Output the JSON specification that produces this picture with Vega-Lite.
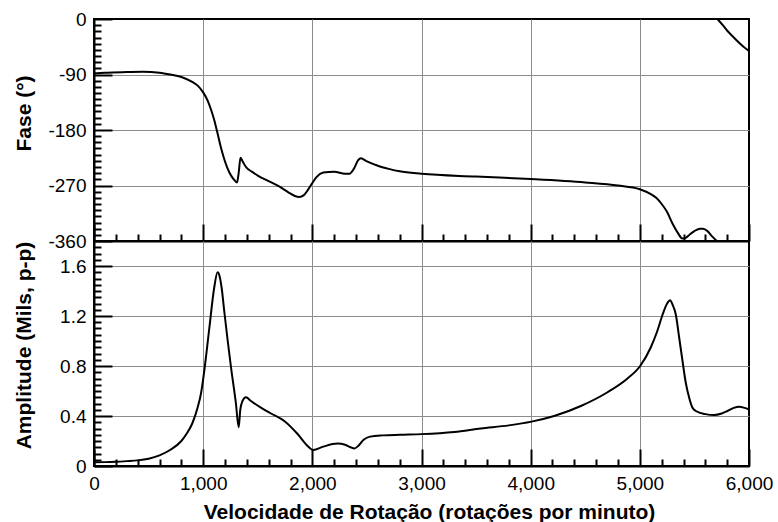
{
  "$schema": "https://vega.github.io/schema/vega-lite/v6.json",
  "padding": {"left": 11, "top": 9, "right": 5, "bottom": 0},
  "background": "white",
  "spacing": 0,
  "bounds": "flush",
  "config": {
    "view": {"stroke": "black", "strokeWidth": 2},
    "axis": {
      "labelFont": "Liberation Sans", "labelFontSize": 19, "labelColor": "black",
      "titleFont": "Liberation Sans", "titleFontSize": 21, "titleFontWeight": "bold", "titleColor": "black",
      "domainColor": "black", "domainWidth": 2,
      "gridColor": "#8c8c8c", "gridWidth": 1,
      "tickColor": "black", "tickWidth": 2,
      "labelOverlap": false
    }
  },
  "datasets": {
    "fase": [
      {"rpm": 0, "fase": -88, "seg": "a"},
      {"rpm": 100, "fase": -87, "seg": "a"},
      {"rpm": 300, "fase": -86, "seg": "a"},
      {"rpm": 450, "fase": -85.5, "seg": "a"},
      {"rpm": 600, "fase": -87, "seg": "a"},
      {"rpm": 700, "fase": -90, "seg": "a"},
      {"rpm": 800, "fase": -94, "seg": "a"},
      {"rpm": 900, "fase": -102, "seg": "a"},
      {"rpm": 950, "fase": -108, "seg": "a"},
      {"rpm": 1000, "fase": -119, "seg": "a"},
      {"rpm": 1040, "fase": -132, "seg": "a"},
      {"rpm": 1070, "fase": -146, "seg": "a"},
      {"rpm": 1100, "fase": -163, "seg": "a"},
      {"rpm": 1130, "fase": -184, "seg": "a"},
      {"rpm": 1165, "fase": -210, "seg": "a"},
      {"rpm": 1200, "fase": -231, "seg": "a"},
      {"rpm": 1240, "fase": -249, "seg": "a"},
      {"rpm": 1280, "fase": -260, "seg": "a"},
      {"rpm": 1310, "fase": -265, "seg": "a"},
      {"rpm": 1325, "fase": -250, "seg": "a"},
      {"rpm": 1342, "fase": -225, "seg": "a"},
      {"rpm": 1365, "fase": -232, "seg": "a"},
      {"rpm": 1392, "fase": -240, "seg": "a"},
      {"rpm": 1450, "fase": -248, "seg": "a"},
      {"rpm": 1500, "fase": -254, "seg": "a"},
      {"rpm": 1600, "fase": -263, "seg": "a"},
      {"rpm": 1700, "fase": -272, "seg": "a"},
      {"rpm": 1780, "fase": -281, "seg": "a"},
      {"rpm": 1840, "fase": -287, "seg": "a"},
      {"rpm": 1880, "fase": -288.5, "seg": "a"},
      {"rpm": 1920, "fase": -286, "seg": "a"},
      {"rpm": 1960, "fase": -277, "seg": "a"},
      {"rpm": 2000, "fase": -266, "seg": "a"},
      {"rpm": 2040, "fase": -256, "seg": "a"},
      {"rpm": 2100, "fase": -249, "seg": "a"},
      {"rpm": 2200, "fase": -247.5, "seg": "a"},
      {"rpm": 2300, "fase": -251, "seg": "a"},
      {"rpm": 2340, "fase": -251, "seg": "a"},
      {"rpm": 2380, "fase": -243, "seg": "a"},
      {"rpm": 2420, "fase": -229, "seg": "a"},
      {"rpm": 2445, "fase": -226, "seg": "a"},
      {"rpm": 2500, "fase": -231, "seg": "a"},
      {"rpm": 2600, "fase": -238, "seg": "a"},
      {"rpm": 2700, "fase": -243, "seg": "a"},
      {"rpm": 2800, "fase": -247, "seg": "a"},
      {"rpm": 3000, "fase": -251, "seg": "a"},
      {"rpm": 3500, "fase": -255.5, "seg": "a"},
      {"rpm": 4000, "fase": -259.5, "seg": "a"},
      {"rpm": 4500, "fase": -265, "seg": "a"},
      {"rpm": 4800, "fase": -270, "seg": "a"},
      {"rpm": 5000, "fase": -276, "seg": "a"},
      {"rpm": 5100, "fase": -284, "seg": "a"},
      {"rpm": 5150, "fase": -290, "seg": "a"},
      {"rpm": 5200, "fase": -300, "seg": "a"},
      {"rpm": 5250, "fase": -313, "seg": "a"},
      {"rpm": 5300, "fase": -332, "seg": "a"},
      {"rpm": 5345, "fase": -346, "seg": "a"},
      {"rpm": 5390, "fase": -356, "seg": "a"},
      {"rpm": 5420, "fase": -355, "seg": "a"},
      {"rpm": 5460, "fase": -349, "seg": "a"},
      {"rpm": 5500, "fase": -344, "seg": "a"},
      {"rpm": 5550, "fase": -340, "seg": "a"},
      {"rpm": 5580, "fase": -340, "seg": "a"},
      {"rpm": 5620, "fase": -344, "seg": "a"},
      {"rpm": 5660, "fase": -352, "seg": "a"},
      {"rpm": 5705, "fase": -360, "seg": "a"},
      {"rpm": 5711, "fase": 0, "seg": "b"},
      {"rpm": 5760, "fase": -10, "seg": "b"},
      {"rpm": 5803, "fase": -19.5, "seg": "b"},
      {"rpm": 5850, "fase": -28, "seg": "b"},
      {"rpm": 5895, "fase": -36, "seg": "b"},
      {"rpm": 5950, "fase": -45, "seg": "b"},
      {"rpm": 6000, "fase": -52, "seg": "b"}
    ],
    "amp": [
      {"rpm": 0, "amp": 0.03},
      {"rpm": 100, "amp": 0.031},
      {"rpm": 200, "amp": 0.034},
      {"rpm": 300, "amp": 0.039},
      {"rpm": 400, "amp": 0.045},
      {"rpm": 500, "amp": 0.058},
      {"rpm": 600, "amp": 0.085},
      {"rpm": 700, "amp": 0.13},
      {"rpm": 800, "amp": 0.2},
      {"rpm": 850, "amp": 0.26},
      {"rpm": 900, "amp": 0.34},
      {"rpm": 950, "amp": 0.47},
      {"rpm": 980, "amp": 0.58},
      {"rpm": 1010, "amp": 0.76},
      {"rpm": 1056, "amp": 1.1},
      {"rpm": 1100, "amp": 1.42},
      {"rpm": 1132, "amp": 1.55},
      {"rpm": 1150, "amp": 1.52},
      {"rpm": 1170, "amp": 1.42},
      {"rpm": 1193, "amp": 1.24},
      {"rpm": 1225, "amp": 1.0},
      {"rpm": 1255, "amp": 0.79},
      {"rpm": 1300, "amp": 0.5},
      {"rpm": 1325, "amp": 0.31},
      {"rpm": 1340, "amp": 0.45},
      {"rpm": 1360, "amp": 0.52},
      {"rpm": 1392, "amp": 0.55},
      {"rpm": 1438, "amp": 0.52},
      {"rpm": 1529, "amp": 0.467},
      {"rpm": 1621, "amp": 0.42},
      {"rpm": 1743, "amp": 0.36},
      {"rpm": 1865, "amp": 0.256},
      {"rpm": 1957, "amp": 0.16},
      {"rpm": 2008, "amp": 0.128},
      {"rpm": 2100, "amp": 0.155},
      {"rpm": 2230, "amp": 0.18},
      {"rpm": 2300, "amp": 0.17},
      {"rpm": 2350, "amp": 0.15},
      {"rpm": 2385, "amp": 0.14},
      {"rpm": 2420, "amp": 0.16},
      {"rpm": 2470, "amp": 0.21},
      {"rpm": 2530, "amp": 0.235},
      {"rpm": 2650, "amp": 0.245},
      {"rpm": 2800, "amp": 0.25},
      {"rpm": 3000, "amp": 0.255},
      {"rpm": 3300, "amp": 0.272},
      {"rpm": 3544, "amp": 0.3},
      {"rpm": 3800, "amp": 0.325},
      {"rpm": 4008, "amp": 0.355},
      {"rpm": 4215, "amp": 0.4},
      {"rpm": 4460, "amp": 0.48},
      {"rpm": 4704, "amp": 0.59},
      {"rpm": 4887, "amp": 0.7},
      {"rpm": 5003, "amp": 0.8},
      {"rpm": 5101, "amp": 0.95},
      {"rpm": 5160, "amp": 1.08},
      {"rpm": 5208, "amp": 1.21},
      {"rpm": 5250, "amp": 1.3},
      {"rpm": 5277, "amp": 1.325},
      {"rpm": 5300, "amp": 1.29},
      {"rpm": 5330, "amp": 1.21},
      {"rpm": 5360, "amp": 1.03},
      {"rpm": 5391, "amp": 0.84},
      {"rpm": 5420, "amp": 0.67},
      {"rpm": 5452, "amp": 0.546},
      {"rpm": 5480, "amp": 0.47},
      {"rpm": 5513, "amp": 0.44},
      {"rpm": 5600, "amp": 0.415},
      {"rpm": 5681, "amp": 0.408},
      {"rpm": 5750, "amp": 0.42},
      {"rpm": 5803, "amp": 0.44},
      {"rpm": 5860, "amp": 0.465},
      {"rpm": 5910, "amp": 0.475},
      {"rpm": 5960, "amp": 0.465},
      {"rpm": 6000, "amp": 0.452}
    ]
  },
  "vconcat": [
    {
      "width": 655,
      "height": 222,
      "data": {"name": "fase"},
      "mark": {"type": "line", "color": "black", "strokeWidth": 2, "clip": true, "interpolate": "monotone"},
      "encoding": {
        "x": {"field": "rpm", "type": "quantitative", "scale": {"domain": [0, 6000], "nice": false, "zero": false},
              "axis": {"orient": "bottom",
                       "values": [0, 200, 400, 600, 800, 1000, 1200, 1400, 1600, 1800, 2000, 2200, 2400, 2600, 2800, 3000, 3200, 3400, 3600, 3800, 4000, 4200, 4400, 4600, 4800, 5000, 5200, 5400, 5600, 5800, 6000],
                       "labels": false, "domain": true, "title": null,
                       "ticks": true,
                       "tickSize": {"condition": {"test": "datum.value % 1000 === 0", "value": -17}, "value": -7},
                       "grid": true,
                       "gridOpacity": {"condition": {"test": "datum.value % 1000 === 0 && datum.value > 0 && datum.value < 6000", "value": 1}, "value": 0}}},
        "y": {"field": "fase", "type": "quantitative", "scale": {"domain": [-360, 0], "nice": false, "zero": false},
              "axis": {"orient": "left",
                       "values": [0, -10, -20, -30, -40, -50, -60, -70, -80, -90, -100, -110, -120, -130, -140, -150, -160, -170, -180, -190, -200, -210, -220, -230, -240, -250, -260, -270, -280, -290, -300, -310, -320, -330, -340, -350, -360],
                       "labelExpr": "datum.value % 90 === 0 ? toString(datum.value) : ''",
                       "ticks": true,
                       "tickSize": {"condition": {"test": "datum.value % 90 === 0", "value": -18}, "value": -7},
                       "labelPadding": 26,
                       "grid": true,
                       "gridOpacity": {"condition": {"test": "datum.value % 90 === 0 && datum.value < 0 && datum.value > -360", "value": 1}, "value": 0},
                       "domain": true, "title": "Fase (°)", "titleX": -60, "titleY": 94}},
        "detail": {"field": "seg", "type": "nominal"}
      }
    },
    {
      "width": 655,
      "height": 225,
      "data": {"name": "amp"},
      "mark": {"type": "line", "color": "black", "strokeWidth": 2, "clip": true, "interpolate": "monotone"},
      "encoding": {
        "x": {"field": "rpm", "type": "quantitative", "scale": {"domain": [0, 6000], "nice": false, "zero": false},
              "axis": {"orient": "bottom",
                       "values": [0, 200, 400, 600, 800, 1000, 1200, 1400, 1600, 1800, 2000, 2200, 2400, 2600, 2800, 3000, 3200, 3400, 3600, 3800, 4000, 4200, 4400, 4600, 4800, 5000, 5200, 5400, 5600, 5800, 6000],
                       "labelExpr": "datum.value % 1000 === 0 ? format(datum.value, ',') : ''",
                       "ticks": true,
                       "tickSize": {"condition": {"test": "datum.value % 1000 === 0", "value": -17}, "value": -7},
                       "labelPadding": 25, "labelFlush": false,
                       "grid": true,
                       "gridOpacity": {"condition": {"test": "datum.value % 1000 === 0 && datum.value > 0 && datum.value < 6000", "value": 1}, "value": 0},
                       "domain": true,
                       "title": "Velocidade de Rotação (rotações por minuto)", "titleX": 335, "titleY": 35}},
        "y": {"field": "amp", "type": "quantitative", "scale": {"domain": [0, 1.8], "nice": false, "zero": false},
              "axis": {"orient": "left",
                       "values": [0, 0.05, 0.1, 0.15, 0.2, 0.25, 0.3, 0.35, 0.4, 0.45, 0.5, 0.55, 0.6, 0.65, 0.7, 0.75, 0.8, 0.85, 0.9, 0.95, 1.0, 1.05, 1.1, 1.15, 1.2, 1.25, 1.3, 1.35, 1.4, 1.45, 1.5, 1.55, 1.6, 1.65, 1.7, 1.75],
                       "labelExpr": "indexof([0, 0.4, 0.8, 1.2, 1.6], datum.value) >= 0 ? format(datum.value, '.1~f') : ''",
                       "ticks": true,
                       "tickSize": {"condition": {"test": "indexof([0, 0.4, 0.8, 1.2, 1.6], datum.value) >= 0", "value": -18}, "value": -7},
                       "labelPadding": 26,
                       "grid": true,
                       "gridOpacity": {"condition": {"test": "indexof([0.4, 0.8, 1.2, 1.6], datum.value) >= 0", "value": 1}, "value": 0},
                       "domain": true, "title": "Amplitude (Mils, p-p)", "titleX": -60, "titleY": 104}}
      }
    }
  ]
}
